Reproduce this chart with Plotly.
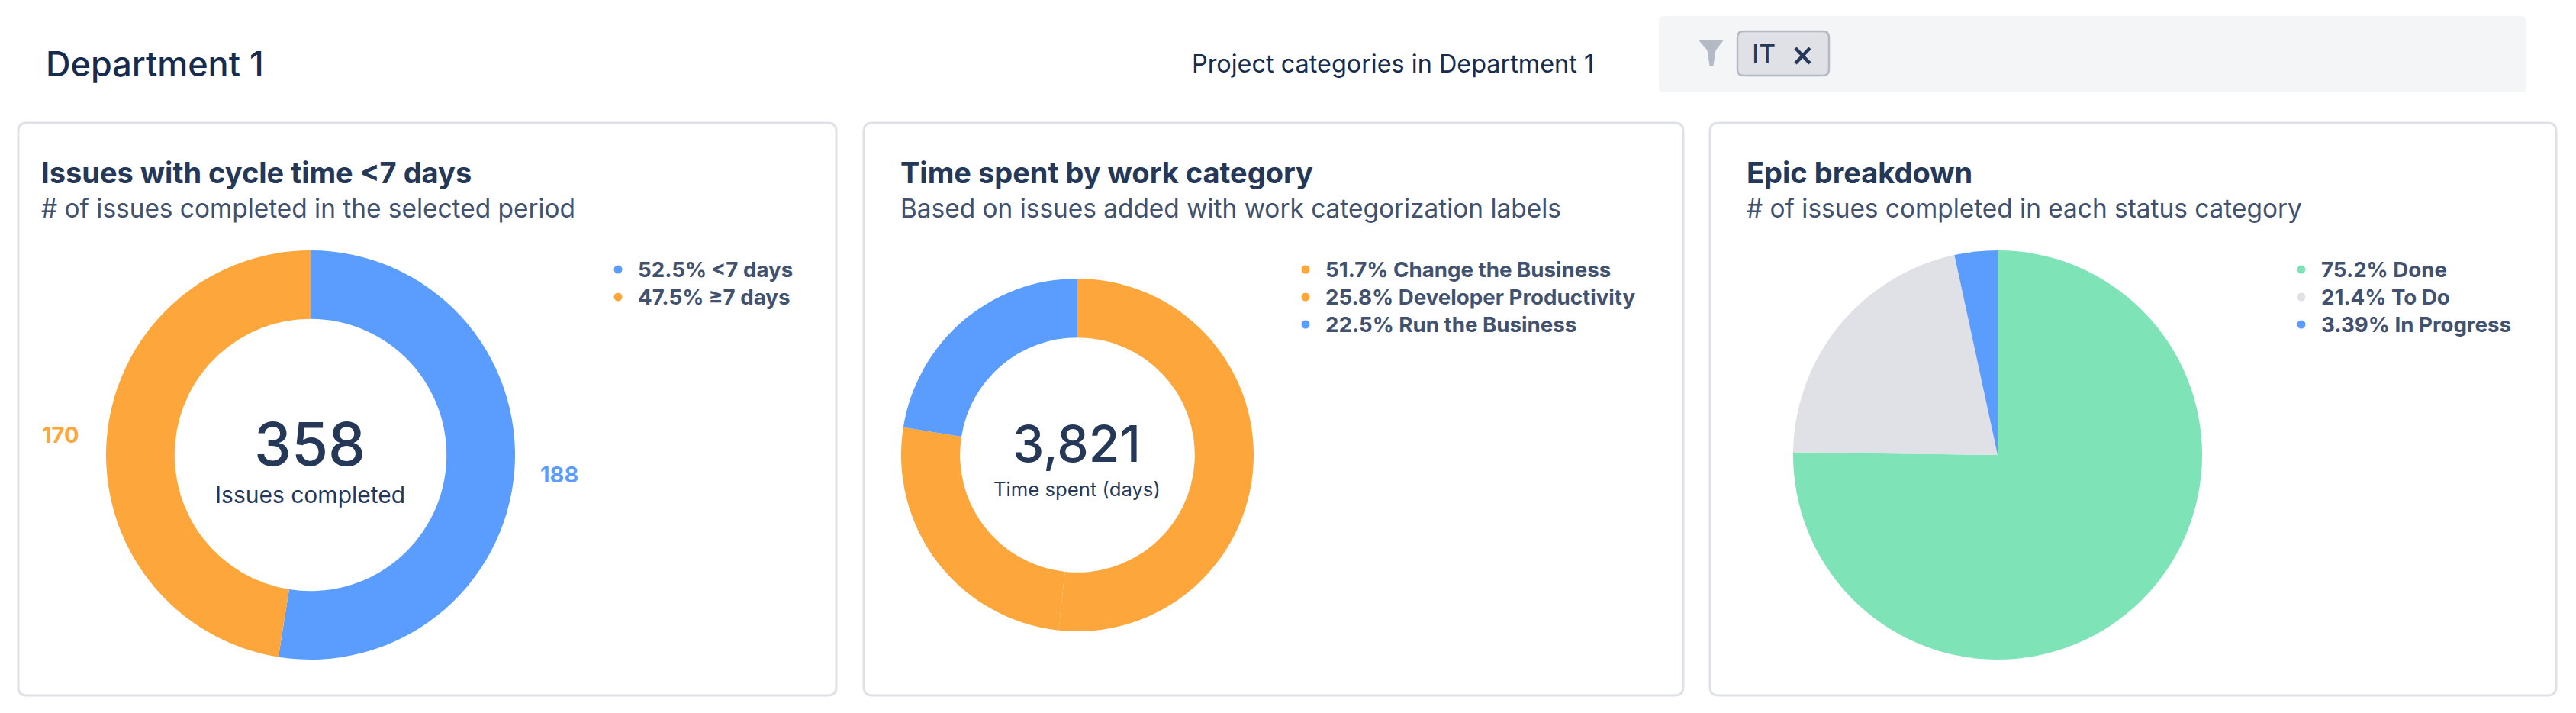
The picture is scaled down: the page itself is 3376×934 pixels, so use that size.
import plotly.graph_objects as go

W, H = 3376, 934

# ---- data ----
cycle_labels = ["<7 days", "≥7 days"]
cycle_values = [188, 170]
cycle_pct = ["52.5%", "47.5%"]
cycle_total = "358"

work_labels = ["Change the Business", "Developer Productivity", "Run the Business"]
work_values = [51.7, 25.8, 22.5]
work_pct = ["51.7%", "25.8%", "22.5%"]
work_total = "3,821"

epic_labels = ["Done", "To Do", "In Progress"]
epic_values = [75.2, 21.4, 3.39]
epic_pct = ["75.2%", "21.4%", "3.39%"]

# ---- colours ----
BLUE = "#5A9DFF"
ORANGE = "#FCA63C"
GREEN = "#7FE3B8"
GREY = "#DFE1E6"
NAVY = "#172B4D"
DARK = "#253858"
MID = "#42526E"
FONT = "Inter"

cycle_colors = [BLUE, ORANGE]
work_colors = [ORANGE, ORANGE, BLUE]
epic_colors = [GREEN, GREY, BLUE]


def rounded(x0, y0, x1, y1, r):
    return (f"M{x0+r},{y0} L{x1-r},{y0} Q{x1},{y0} {x1},{y0+r} L{x1},{y1-r} Q{x1},{y1} {x1-r},{y1} "
            f"L{x0+r},{y1} Q{x0},{y1} {x0},{y1-r} L{x0},{y0+r} Q{x0},{y0} {x0+r},{y0} Z")


def domain(cx, cy, r):
    return dict(x=[(cx - r) / W, (cx + r) / W], y=[1 - (cy + r) / H, 1 - (cy - r) / H])


fig = go.Figure()
shapes = []
notes = []


def text(x, y, s, size, color=DARK, weight=400, anchor="left"):
    notes.append(dict(x=x, y=y, xref="x", yref="y", text=s, showarrow=False, xanchor=anchor,
                      yanchor="middle", align=anchor, borderpad=0,
                      font=dict(family=FONT, size=size, color=color, weight=weight)))


# ---- cards ----
for x0, x1 in [(24, 1096), (1132, 2206), (2241, 3350)]:
    shapes.append(dict(type="path", xref="x", yref="y", path=rounded(x0, 161, x1, 911, 11),
                       fillcolor="white", line=dict(color=GREY, width=3), layer="below"))

# ---- header ----
text(59, 83, "Department 1", 45, NAVY, 500)
text(1561, 83, "Project categories in Department 1", 32.4, NAVY, 400)
shapes.append(dict(type="path", xref="x", yref="y", path=rounded(2174, 21, 3311, 121, 6),
                   fillcolor="#F4F5F7", line=dict(width=0), layer="below"))
shapes.append(dict(type="path", xref="x", yref="y", path=rounded(2277, 41, 2397, 99, 8),
                   fillcolor=GREY, line=dict(color="#B3BAC5", width=2.5), layer="below"))
shapes.append(dict(type="path", xref="x", yref="y",
                   path="M2227,53 L2258,53 L2248,66 L2245,86 L2241,86 L2238,66 Z",
                   fillcolor="#B3BAC5", line=dict(color="#B3BAC5", width=1), layer="below"))
for pts in [(2353, 63, 2372, 83), (2372, 63, 2353, 83)]:
    shapes.append(dict(type="line", xref="x", yref="y", x0=pts[0], y0=pts[1], x1=pts[2], y1=pts[3],
                       line=dict(color=DARK, width=4.5)))
text(2295, 70, "IT", 34, DARK, 400)

# ---- pies ----
pies = [
    (407, 596, 268, 0.665, cycle_labels, cycle_values, cycle_colors),
    (1412, 596, 231, 0.666, work_labels, work_values, work_colors),
    (2618, 596, 268, 0, epic_labels, epic_values, epic_colors),
]
for cx, cy, r, hole, labels, values, colors in pies:
    fig.add_trace(go.Pie(labels=labels, values=values, hole=hole, sort=False, direction="clockwise",
                         rotation=0, textinfo="none", showlegend=False, domain=domain(cx, cy, r),
                         marker=dict(colors=colors, line=dict(width=0))))

# ---- card titles ----
text(53, 226, "Issues with cycle time <7 days", 38, DARK, 700)
text(53, 273, "# of issues completed in the selected period", 33.4, MID)
text(1179, 226, "Time spent by work category", 38, DARK, 700)
text(1179, 273, "Based on issues added with work categorization labels", 33.4, MID)
text(2288, 226, "Epic breakdown", 38, DARK, 700)
text(2288, 273, "# of issues completed in each status category", 33.4, MID)

# ---- centre text and value labels ----
text(406, 581, cycle_total, 78, DARK, 500, "center")
text(406, 648, "Issues completed", 30, DARK, 400, "center")
text(1411, 581, work_total, 66, DARK, 500, "center")
text(1411, 640, "Time spent (days)", 25.7, DARK, 400, "center")
text(79, 569, str(cycle_values[1]), 29, ORANGE, 700, "center")
text(733, 621, str(cycle_values[0]), 29, BLUE, 700, "center")

# ---- legends ----
legends = [
    (810, 835, cycle_labels, cycle_pct, cycle_colors),
    (1711, 1736, work_labels, work_pct, work_colors),
    (3016, 3041, epic_labels, epic_pct, epic_colors),
]
rows = [353, 389, 425]
for dot_x, text_x, labels, pct, colors in legends:
    ys = rows[:len(labels)]
    fig.add_trace(go.Scatter(x=[dot_x] * len(labels), y=ys, mode="markers", showlegend=False,
                             hoverinfo="skip", marker=dict(size=11, color=colors)))
    for y, p, lab in zip(ys, pct, labels):
        text(text_x, y, f"{p} {lab}", 27.7, MID, 700)

fig.update_layout(
    width=W, height=H, margin=dict(l=0, r=0, t=0, b=0), paper_bgcolor="white", plot_bgcolor="white",
    xaxis=dict(range=[0, W], visible=False, fixedrange=True),
    yaxis=dict(range=[H, 0], visible=False, fixedrange=True),
    shapes=shapes, annotations=notes,
)
fig.write_html("out.html", config=dict(displayModeBar=False),
               post_script="document.body.style.margin='0';")
